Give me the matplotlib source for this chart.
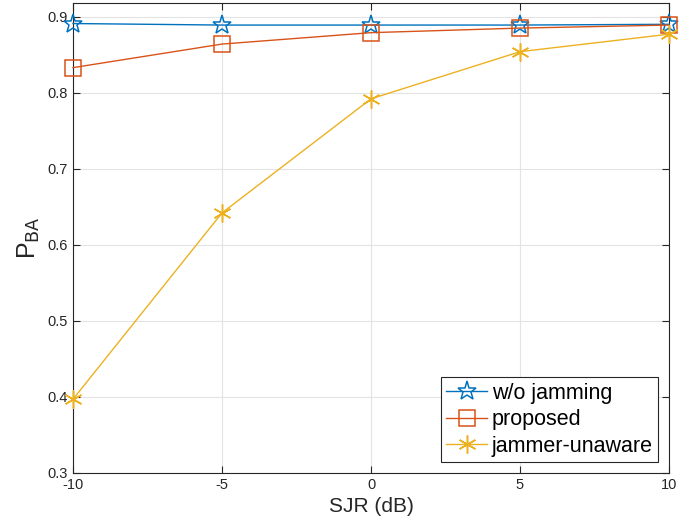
import matplotlib
matplotlib.use("Agg")
import matplotlib.pyplot as plt

sjr = [-10, -5, 0, 5, 10]
wo_jamming = [0.891, 0.889, 0.889, 0.889, 0.890]
proposed = [0.833, 0.864, 0.879, 0.885, 0.889]
jammer_unaware = [0.397, 0.642, 0.792, 0.854, 0.877]
xticks = [-10, -5, 0, 5, 10]
yticks = [0.3, 0.4, 0.5, 0.6, 0.7, 0.8, 0.9]

plt.rcParams['font.family'] = ['Liberation Sans', 'DejaVu Sans']

fig = plt.figure(figsize=(6.91, 5.29), dpi=100)
ax = fig.add_axes([73/691, 1-473/529, (669-73)/691, (473-3)/529])

ax.plot(sjr, wo_jamming, color='#0072BD', marker='*', markersize=14, markerfacecolor='none',
        markeredgewidth=1.1, linewidth=1.0, label='w/o jamming', clip_on=False, zorder=3)
ax.plot(sjr, proposed, color='#D95319', marker='s', markersize=11, markerfacecolor='none',
        markeredgewidth=1.1, linewidth=1.0, label='proposed', clip_on=False, zorder=3)
ax.plot(sjr, jammer_unaware, color='#EDB120', marker=(6, 2, 0), markersize=13,
        markeredgewidth=1.1, linewidth=1.0, label='jammer-unaware', clip_on=False, zorder=3)

ax.set_xlim(-10, 10)
ax.set_ylim(0.3, 0.918)
ax.set_xticks(xticks)
ax.set_xticklabels([str(t) for t in xticks])
ax.set_yticks(yticks)
ax.set_yticklabels([f'{t:.1f}' for t in yticks])
ax.grid(True, color='#e3e3e3', linewidth=0.8)
ax.set_axisbelow(True)
ax.tick_params(direction='in', top=True, right=True, labelsize=10.5, colors='#262626', length=5)
for s in ax.spines.values():
    s.set_color('#262626')
    s.set_linewidth(0.8)

ax.set_xlabel('SJR (dB)', fontsize=15, color='#262626')
ax.set_ylabel(r'P$_{\mathrm{BA}}$', fontsize=18, color='#262626')

leg = ax.legend(loc='lower right', fontsize=15.5, fancybox=False, framealpha=1,
                edgecolor='#262626', borderpad=0.25, labelspacing=0.25, handlelength=1.9,
                handletextpad=0.2, borderaxespad=0.0, bbox_to_anchor=(658/691, 1-462/529),
                bbox_transform=fig.transFigure)
leg.get_frame().set_linewidth(0.8)

fig.savefig('out.png', dpi=100)
